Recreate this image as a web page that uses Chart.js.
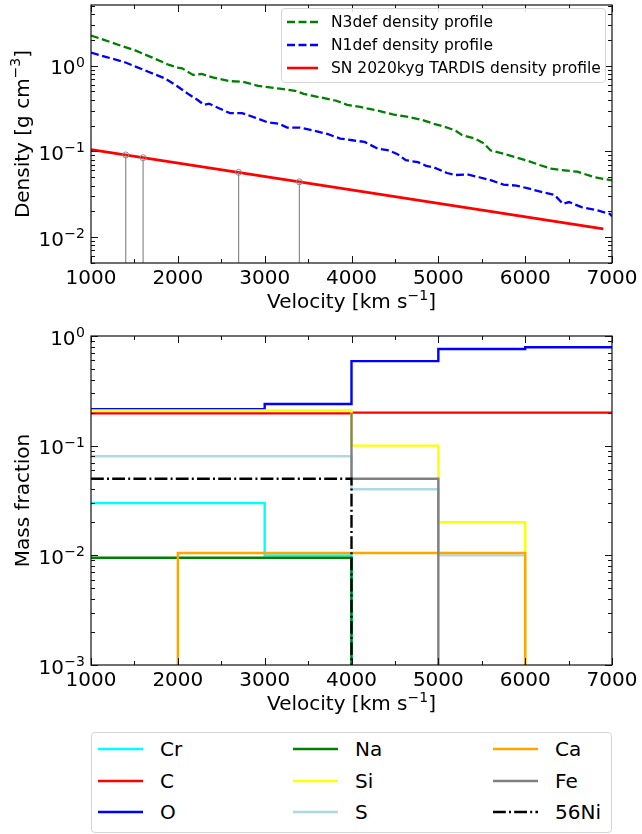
<!DOCTYPE html>
<html>
<head>
<meta charset="utf-8">
<script src="https://cdn.jsdelivr.net/npm/chart.js@4.4.0/dist/chart.umd.min.js"></script>
<style>
  body { margin: 0; background: #fff; font-family: 'DejaVu Sans', sans-serif; }
  #page { position: relative; width: 642px; height: 834px; overflow: hidden; }
  canvas { position: absolute; left: 0; }
  #densityChart { top: 0; }
  #abundanceChart { top: 320px; }
  .legend { position: absolute; background: rgba(255,255,255,0.85); border: 1px solid #d6d6d6; border-radius: 4px; box-sizing: border-box; }
  .legend .item { position: absolute; display: flex; align-items: center; height: 24px; white-space: nowrap; color: #000; }
  .legend svg { display: block; }
</style>
</head>
<body>
<div id="page">
  <canvas id="densityChart" width="642" height="320"></canvas>
  <canvas id="abundanceChart" width="642" height="400"></canvas>
  <div id="densityLegend" class="legend" style="left:281px; top:8px; width:325px; height:75px;"></div>
  <div id="abundanceLegend" class="legend" style="left:91px; top:732px; width:521px; height:101px;"></div>
</div>
<script>
// ---- top panel: density profiles ----
const n3Velocity = [1000, 1150, 1375, 1500, 1700, 1900, 2000, 2050, 2175, 2275, 2400, 2600, 2750, 2925, 3175, 3350, 3450, 3625, 3825, 3950,
    4100, 4300, 4475, 4675, 4800, 4950, 5100, 5200, 5275, 5425, 5525, 5600, 5750, 5900, 6025, 6175, 6300, 6400, 6600, 6800, 7000];
const n3Density = [2.25, 2.0, 1.67, 1.52, 1.25, 1.02, 0.95, 0.93, 0.78, 0.80, 0.73, 0.66, 0.65, 0.58, 0.54, 0.51, 0.47, 0.43, 0.39, 0.35,
    0.33, 0.30, 0.27, 0.25, 0.235, 0.21, 0.19, 0.174, 0.155, 0.141, 0.124, 0.103, 0.094, 0.085, 0.078, 0.069, 0.063, 0.061, 0.058, 0.050, 0.046];

const n1Velocity = [1000, 1190, 1375, 1520, 1660, 1850, 1990, 2130, 2225, 2300, 2360, 2500, 2600, 2740, 2880, 3025, 3165, 3260, 3400, 3540,
    3730, 3870, 4010, 4150, 4300, 4430, 4530, 4625, 4765, 4860, 4950, 5100, 5190, 5330, 5470, 5610, 5750, 5900, 6035, 6175,
    6340, 6435, 6505, 6650, 6835, 6975, 7000];
const n1Density = [1.42, 1.25, 1.11, 0.97, 0.85, 0.71, 0.58, 0.46, 0.40, 0.35, 0.36, 0.31, 0.28, 0.28, 0.25, 0.22, 0.21, 0.19, 0.19, 0.177,
    0.159, 0.141, 0.135, 0.129, 0.108, 0.103, 0.093, 0.079, 0.075, 0.068, 0.065, 0.056, 0.053, 0.054, 0.050, 0.046, 0.041, 0.040, 0.037, 0.034,
    0.031, 0.0245, 0.0257, 0.0224, 0.0205, 0.0187, 0.0175];

const tardisVelocity = [1000, 6900];
const tardisDensity = [0.105, 0.0125];

// grey drop lines with open circles
const markerVelocity = [1400, 1600, 2700, 3400];
const markerDensity = [0.091, 0.0845, 0.057, 0.0442];

const velocityTicks = [1000, 2000, 3000, 4000, 5000, 6000, 7000];
const densityTicks = [0.01, 0.1, 1];
const densityMin = 0.005, densityMax = 5.1;

// ---- bottom panel: mass fractions per shell ----
const shellEdges = [1000, 2000, 3000, 4000, 5000, 6000, 7000];
const crFraction = [0.03, 0.03, 0.01, 0, 0, 0];
const cFraction = [0.197, 0.197, 0.197, 0.2, 0.2, 0.2];
const oFraction = [0.215, 0.215, 0.24, 0.59, 0.76, 0.79];
const naFraction = [0.0095, 0.0095, 0.0095, 0, 0, 0];
const siFraction = [0.21, 0.21, 0.21, 0.1, 0.02, 0];
const sFraction = [0.08, 0.08, 0.08, 0.04, 0.01, 0];
const caFraction = [0, 0.0105, 0.0105, 0.0105, 0.0105, 0];
const feFraction = [null, null, null, 0.05, 0, 0];
const feEntry = 0.2; // Fe line enters at 4000 km/s from this level
const ni56Fraction = [0.05, 0.05, 0.05, 0, 0, 0];
const fractionTicks = [0.001, 0.01, 0.1, 1];

// axis titles, pieces marked sup are superscripts
const velocityTitle = [{ t: 'Velocity [km s' }, { t: '\u22121', sup: true }, { t: ']' }];
const densityTitle = [{ t: 'Density [g cm' }, { t: '\u22123', sup: true }, { t: ']' }];
const fractionTitle = [{ t: 'Mass fraction' }];

const FONT = "'DejaVu Sans', sans-serif";

function xy(xs, ys) {
    return xs.map((x, i) => ({ x: x, y: ys[i] }));
}

// turn per-shell values into step vertices; zero goes off the bottom of the log axis
function steps(values) {
    const pts = [];
    values.forEach((v, i) => {
        if (v === null) return;
        const y = v === 0 ? 1e-9 : v;
        pts.push({ x: shellEdges[i], y: y }, { x: shellEdges[i + 1], y: y });
    });
    return pts;
}

// text with superscripts, centred on x, baseline at y
function richText(ctx, parts, x, y) {
    const fontOf = p => (p.sup ? '14px ' : '20px ') + FONT;
    let total = 0;
    parts.forEach(p => { ctx.font = fontOf(p); p.w = ctx.measureText(p.t).width; total += p.w; });
    let cx = x - total / 2;
    ctx.textAlign = 'left';
    parts.forEach(p => {
        ctx.font = fontOf(p);
        ctx.fillText(p.t, cx, p.sup ? y - 8.5 : y);
        cx += p.w;
    });
}

// inward ticks on all four sides, frame, tick labels and axis titles drawn like matplotlib
const axisFrame = {
    id: 'axisFrame',
    afterDatasetsDraw(chart, args, o) {
        const ctx = chart.ctx, a = chart.chartArea;
        const xs = chart.scales.x, ys = chart.scales.y;
        ctx.save();
        ctx.strokeStyle = '#111';
        ctx.lineWidth = 1;
        const seg = (x1, y1, x2, y2) => { ctx.beginPath(); ctx.moveTo(x1, y1); ctx.lineTo(x2, y2); ctx.stroke(); };
        for (let v = xs.min; v <= xs.max; v += 500) {
            const px = Math.round(xs.getPixelForValue(v)) + 0.5;
            const len = v % 1000 === 0 ? 7 : 4;
            seg(px, a.bottom, px, a.bottom - len);
            seg(px, a.top, px, a.top + len);
        }
        const lo = Math.floor(Math.log10(ys.min)), hi = Math.ceil(Math.log10(ys.max));
        for (let e = lo; e <= hi; e++) {
            for (let m = 1; m <= 9; m++) {
                const v = m * Math.pow(10, e);
                if (v < ys.min * 0.999 || v > ys.max * 1.001) continue;
                const py = Math.round(ys.getPixelForValue(v)) + 0.5;
                const len = m === 1 ? 7 : 4;
                seg(a.left, py, a.left + len, py);
                seg(a.right, py, a.right - len, py);
            }
        }
        ctx.lineWidth = 1.2;
        ctx.strokeRect(a.left, a.top, a.right - a.left, a.bottom - a.top);

        ctx.fillStyle = '#000';
        ctx.textBaseline = 'alphabetic';
        ctx.textAlign = 'center';
        ctx.font = '20px ' + FONT;
        o.xTicks.forEach(v => ctx.fillText(String(v), xs.getPixelForValue(v), a.bottom + 21));
        ctx.textAlign = 'right';
        o.yTicks.forEach(v => {
            const py = ys.getPixelForValue(v);
            const exp = String(Math.round(Math.log10(v))).replace('-', '\u2212');
            ctx.font = '14px ' + FONT;
            const ew = ctx.measureText(exp).width;
            ctx.fillText(exp, a.left - 6, py + 1);
            ctx.font = '20px ' + FONT;
            ctx.fillText('10', a.left - 6 - ew - 0.5, py + 8.5);
        });

        richText(ctx, o.xTitle, (a.left + a.right) / 2, a.bottom + 45);
        ctx.save();
        ctx.translate(28.5, (a.top + a.bottom) / 2);
        ctx.rotate(-Math.PI / 2);
        richText(ctx, o.yTitle, 0, 0);
        ctx.restore();
        ctx.restore();
    }
};

function axes(yMin, yMax, xHeight) {
    return {
        x: {
            type: 'linear', min: 1000, max: 7000,
            ticks: { display: false }, grid: { display: false }, border: { display: false },
            afterFit: s => { s.height = xHeight; }
        },
        y: {
            type: 'logarithmic', min: yMin, max: yMax,
            ticks: { display: false }, grid: { display: false }, border: { display: false },
            afterFit: s => { s.width = 91; }
        }
    };
}

const commonOpts = {
    responsive: false,
    animation: false,
    events: [],
    plugins: { legend: { display: false }, tooltip: { enabled: false } }
};

// ---- density chart ----
const densitySets = [
    { label: 'N3def density profile', data: xy(n3Velocity, n3Density), borderColor: '#008000', borderWidth: 2.3, borderDash: [8, 3.5] },
    { label: 'N1def density profile', data: xy(n1Velocity, n1Density), borderColor: '#0000ff', borderWidth: 2.3, borderDash: [8, 3.5] },
    { label: 'SN 2020kyg TARDIS density profile', data: xy(tardisVelocity, tardisDensity), borderColor: '#ff0000', borderWidth: 2.6 }
];
markerVelocity.forEach((v, i) => {
    densitySets.push({
        label: 'marker' + i,
        data: [{ x: v, y: densityMin }, { x: v, y: markerDensity[i] }],
        borderColor: '#8c8c8c', borderWidth: 1.2,
        pointRadius: [0, 3], pointBorderColor: '#8c8c8c', pointBorderWidth: 1, pointBackgroundColor: 'rgba(0,0,0,0)'
    });
});
densitySets.forEach((d, i) => {
    d.order = -i;
    d.fill = false;
    d.tension = 0;
    d.clip = 0;
    if (d.pointRadius === undefined) d.pointRadius = 0;
});

new Chart(document.getElementById('densityChart'), {
    type: 'line',
    data: { datasets: densitySets },
    options: Object.assign({}, commonOpts, {
        layout: { padding: { top: 5, right: 30, left: 0, bottom: 0 } },
        scales: axes(densityMin, densityMax, 57),
        plugins: Object.assign({}, commonOpts.plugins, {
            axisFrame: { xTicks: velocityTicks, yTicks: densityTicks, xTitle: velocityTitle, yTitle: densityTitle }
        })
    }),
    plugins: [axisFrame]
});

// ---- abundance chart ----
const abundanceSets = [
    { label: 'Cr', data: steps(crFraction), borderColor: '#00ffff' },
    { label: 'C', data: steps(cFraction), borderColor: '#ff0000' },
    { label: 'O', data: steps(oFraction), borderColor: '#0000ff' },
    { label: 'Na', data: steps(naFraction), borderColor: '#008000' },
    { label: 'Si', data: steps(siFraction), borderColor: '#ffff00' },
    { label: 'S', data: steps(sFraction), borderColor: '#add8e6' },
    { label: 'Ca', data: steps(caFraction), borderColor: '#ffa500' },
    { label: 'Fe', data: [{ x: shellEdges[3], y: feEntry }].concat(steps(feFraction)), borderColor: '#808080' },
    { label: '56Ni', data: steps(ni56Fraction), borderColor: '#000000', borderDash: [12.8, 3.2, 2, 3.2] }
];
abundanceSets.forEach((d, i) => {
    d.order = -i;
    d.borderWidth = 2.4;
    d.pointRadius = 0;
    d.fill = false;
    d.tension = 0;
    d.clip = 0;
});

new Chart(document.getElementById('abundanceChart'), {
    type: 'line',
    data: { datasets: abundanceSets },
    options: Object.assign({}, commonOpts, {
        layout: { padding: { top: 16, right: 30, left: 0, bottom: 0 } },
        scales: axes(0.001, 1, 55),
        plugins: Object.assign({}, commonOpts.plugins, {
            axisFrame: { xTicks: velocityTicks, yTicks: fractionTicks, xTitle: velocityTitle, yTitle: fractionTitle }
        })
    }),
    plugins: [axisFrame]
});

// ---- html legends built from the dataset styles ----
function swatch(color, dash, width, len) {
    const da = dash ? ' stroke-dasharray="' + dash.join(' ') + '"' : '';
    return '<svg width="' + len + '" height="10"><line x1="0" y1="5" x2="' + len + '" y2="5" stroke="' + color +
        '" stroke-width="' + width + '"' + da + '/></svg>';
}

function buildLegend(el, sets, cols, rows, swatchLen, textGap, fontSize) {
    sets.forEach((d, i) => {
        const col = Math.floor(i / rows.length), row = i % rows.length;
        const item = document.createElement('div');
        item.className = 'item';
        item.style.left = cols[col] + 'px';
        item.style.top = (rows[row] - 12) + 'px';
        item.style.fontSize = fontSize + 'px';
        item.innerHTML = swatch(d.borderColor, d.borderDash, d.borderWidth, swatchLen) +
            '<span style="margin-left:' + textGap + 'px">' + d.label + '</span>';
        el.appendChild(item);
    });
}

buildLegend(document.getElementById('densityLegend'), densitySets.slice(0, 3), [5], [13, 36, 59], 31, 13, 15.5);
buildLegend(document.getElementById('abundanceLegend'), abundanceSets, [6, 201, 401], [16, 48, 79], 45, 17, 20);
</script>
</body>
</html>
